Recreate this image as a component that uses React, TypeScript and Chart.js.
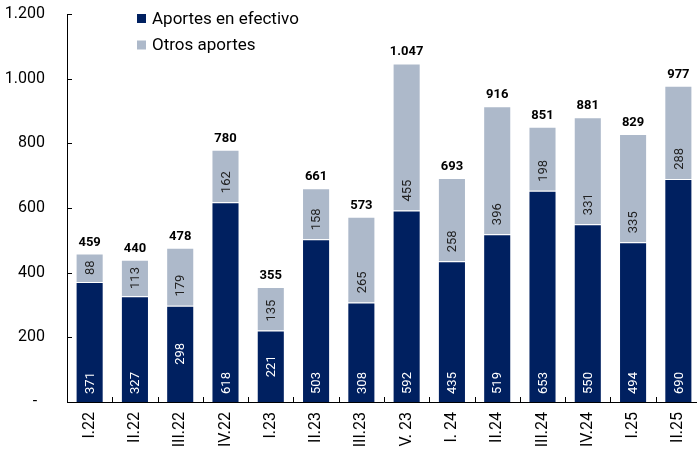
import React, { useEffect, useRef } from "react";
import { Chart, registerables } from "chart.js";

Chart.register(...registerables);

const categories = ["I.22", "II.22", "III.22", "IV.22", "I.23", "II.23", "III.23", "V. 23", "I. 24", "II.24", "III.24", "IV.24", "I.25", "II.25"];
const efectivo = [371, 327, 298, 618, 221, 503, 308, 592, 435, 519, 653, 550, 494, 690];
const otros = [88, 113, 179, 162, 135, 158, 265, 455, 258, 396, 198, 331, 335, 288];
const totals = [459, 440, 478, 780, 355, 661, 573, 1047, 693, 916, 851, 881, 829, 977];
const seriesNames = ["Aportes en efectivo", "Otros aportes"];
const colors = ["#002060", "#ADB9CA"];

const FONT = "Roboto, 'Noto Sans', sans-serif";

const fmt = (v: number) => String(v).replace(/\B(?=(\d{3})+(?!\d))/g, ".");

const labelsPlugin = {
  id: "customLabels",
  afterDatasetsDraw(chart: any) {
    const ctx = chart.ctx;
    ctx.save();
    chart.data.datasets.forEach((ds: any, di: number) => {
      const meta = chart.getDatasetMeta(di);
      meta.data.forEach((el: any, i: number) => {
        const v = ds.data[i];
        const top = Math.min(el.y, el.base);
        const bottom = Math.max(el.y, el.base);
        const center = (top + bottom) / 2;
        let yc: number;
        if (di === 0) {
          yc = v < 300 ? center : bottom - 19;
        } else {
          yc = Math.max(center, bottom - 20);
        }
        ctx.save();
        ctx.translate(el.x + 1, yc);
        ctx.rotate(-Math.PI / 2);
        ctx.font = `13px ${FONT}`;
        ctx.fillStyle = di === 0 ? "#ffffff" : "#222222";
        ctx.textAlign = "center";
        ctx.textBaseline = "middle";
        ctx.fillText(fmt(v), 0, 0);
        ctx.restore();
      });
    });
    const meta1 = chart.getDatasetMeta(1);
    meta1.data.forEach((el: any, i: number) => {
      ctx.font = `bold 13px ${FONT}`;
      ctx.fillStyle = "#000000";
      ctx.textAlign = "center";
      ctx.textBaseline = "alphabetic";
      ctx.fillText(fmt(totals[i]), el.x, el.y - 8);
    });
    ctx.restore();
  },
  afterDraw(chart: any) {
    const ctx = chart.ctx;
    const area = chart.chartArea;
    const y = chart.scales.y;
    ctx.save();
    ctx.strokeStyle = "#000000";
    ctx.lineWidth = 1;
    ctx.beginPath();
    y.ticks.forEach((t: any, i: number) => {
      const py = Math.round(y.getPixelForTick(i)) + 0.5;
      ctx.moveTo(area.left, py);
      ctx.lineTo(area.left + 5, py);
    });
    const n = categories.length;
    for (let i = 0; i <= n; i++) {
      const px = Math.round(area.left + ((area.right - area.left) * i) / n) + 0.5;
      ctx.moveTo(px, area.bottom);
      ctx.lineTo(px, area.bottom - 5);
    }
    ctx.stroke();
    const items = [
      { y: 18.5, color: colors[0], text: seriesNames[0] },
      { y: 45, color: colors[1], text: seriesNames[1] },
    ];
    items.forEach((it) => {
      ctx.fillStyle = it.color;
      ctx.fillRect(137, it.y - 4.5, 9, 9);
      ctx.fillStyle = "#000000";
      ctx.font = `17px ${FONT}`;
      ctx.textAlign = "left";
      ctx.textBaseline = "middle";
      ctx.fillText(it.text, 152, it.y + 1);
    });
    ctx.restore();
  },
};

export default function App() {
  const ref = useRef<HTMLCanvasElement | null>(null);
  useEffect(() => {
    if (!ref.current) return;
    const chart = new Chart(ref.current, {
      type: "bar",
      data: {
        labels: categories,
        datasets: [
          {
            label: seriesNames[0],
            data: efectivo,
            backgroundColor: colors[0],
            borderColor: "rgba(255,255,255,0.35)",
            borderWidth: 1,
            barPercentage: 0.62,
            categoryPercentage: 1,
          },
          {
            label: seriesNames[1],
            data: otros,
            backgroundColor: colors[1],
            borderColor: "rgba(255,255,255,0.5)",
            borderWidth: 1,
            barPercentage: 0.62,
            categoryPercentage: 1,
          },
        ],
      },
      options: {
        responsive: false,
        animation: false,
        devicePixelRatio: 1,
        layout: { padding: { top: 14, right: 0, left: 0, bottom: 0 } },
        plugins: {
          legend: { display: false },
          tooltip: { enabled: false },
        },
        scales: {
          x: {
            stacked: true,
            grid: { display: false, drawTicks: false },
            border: { display: true, color: "#000000", width: 1 },
            ticks: {
              autoSkip: false,
              maxRotation: 90,
              minRotation: 90,
              padding: 10,
              color: "#000000",
              font: { family: FONT, size: 16 },
            },
            afterFit: (s: any) => {
              s.height = 48;
              s.paddingLeft = 0;
              s.paddingRight = 0;
              s.paddingTop = 0;
              s.paddingBottom = 0;
            },
          },
          y: {
            stacked: true,
            min: 0,
            max: 1200,
            grid: { display: false, drawTicks: false },
            border: { display: true, color: "#000000", width: 1 },
            ticks: {
              stepSize: 200,
              padding: 22,
              color: "#000000",
              font: { family: FONT, size: 16 },
              callback: (v: any) => (Number(v) === 0 ? "-  " : fmt(Number(v))),
            },
            afterFit: (s: any) => {
              s.width = 67;
              s.paddingLeft = 0;
              s.paddingRight = 0;
              s.paddingTop = 0;
              s.paddingBottom = 0;
            },
          },
        },
      },
      plugins: [labelsPlugin],
    });
    return () => chart.destroy();
  }, []);
  return (
    <div style={{ position: "fixed", left: 0, top: 0, width: 697, height: 450, overflow: "hidden", background: "#fff" }}>
      <canvas ref={ref} width={701} height={450} style={{ width: 701, height: 450, display: "block" }} />
    </div>
  );
}
